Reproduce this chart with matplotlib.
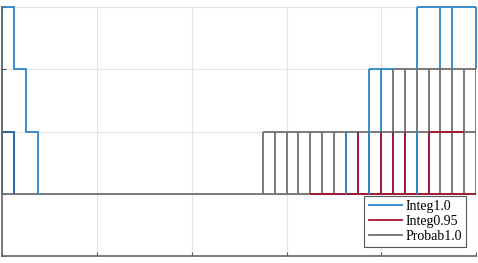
#!/usr/bin/env python3

import matplotlib.pyplot as plt

plt.rcParams['font.family'] = ['Liberation Serif', 'DejaVu Serif']

# time slots (one slot = 0.125)
slot_edges = [2.75, 2.875, 3.0, 3.125, 3.25, 3.375, 3.5, 3.625, 3.75, 3.875,
              4.0, 4.125, 4.25, 4.375, 4.5, 4.625, 4.75, 4.875, 5.0]

# Probab1.0
probab_idle = [0.0, 2.75]
probab_row1_edges = slot_edges
probab_row2_edges = [4.125, 4.25, 4.375, 4.5, 4.625, 4.75, 4.875, 5.0]

# Integ0.95
integ095_idle = [3.25, 5.0]
integ095_pulses = [3.75, 4.0, 4.125, 4.25, 4.5]
integ095_busy = [4.5, 4.875]

# Integ1.0
integ1_start_edges = [0.0, 0.125, 0.25, 0.375]
integ1_start_values = [3, 2, 1]
integ1_first_edges = [0.0, 0.125]
integ1_first_values = [1]
integ1_pulses = [3.625, 3.875, 4.375]
integ1_row2_edges = [3.875, 4.0, 4.125]
integ1_row3_edges = [4.375, 4.625, 4.75, 5.0]

c_blue = '#2b86c8'
c_dark = '#1f5f99'
c_red = '#a2142f'
c_gray = '#707070'
lw = 1.3

fig = plt.figure(figsize=(4.78, 2.63), dpi=100)
ax = fig.add_axes([0.0048, 0.0266, 0.9910, 0.9468])

# gray boxes (bottom layer)
ax.hlines(0, probab_idle[0], probab_idle[1], color=c_gray, lw=lw, zorder=2)
ax.vlines(probab_row1_edges, 0, 1, color=c_gray, lw=lw, zorder=2)
ax.hlines([0, 1], probab_row1_edges[0], probab_row1_edges[-1], color=c_gray, lw=lw, zorder=2)
ax.vlines(probab_row2_edges, 1, 2, color=c_gray, lw=lw, zorder=2)
ax.hlines(2, probab_row2_edges[0], probab_row2_edges[-1], color=c_gray, lw=lw, zorder=2)

# red
ax.hlines(0, integ095_idle[0], integ095_idle[1], color=c_red, lw=lw, zorder=3)
ax.vlines(integ095_pulses, 0, 1, color=c_red, lw=lw, zorder=3)
ax.hlines(1, integ095_busy[0], integ095_busy[1], color=c_red, lw=lw, zorder=3)

# blue (top layer)
ax.stairs(integ1_start_values, integ1_start_edges, baseline=0, color=c_blue, lw=lw, zorder=4, clip_on=False)
ax.stairs(integ1_first_values, integ1_first_edges, baseline=0, color=c_dark, lw=lw, zorder=4)
ax.vlines(integ1_pulses, 0, 1, color=c_blue, lw=lw, zorder=4)
ax.vlines(integ1_row2_edges[:-1], 1, 2, color=c_blue, lw=lw, zorder=4)
ax.hlines(2, integ1_row2_edges[0], integ1_row2_edges[-1], color=c_blue, lw=lw, zorder=4)
ax.vlines(integ1_row3_edges, 2, 3, color=c_blue, lw=lw, zorder=4, clip_on=False)
ax.hlines(3, integ1_row3_edges[0], integ1_row3_edges[-1], color=c_blue, lw=lw, zorder=4, clip_on=False)

ax.set_xlim(0, 5)
ax.set_ylim(-1, 3)
ax.set_xticks([0, 1, 2, 3, 4, 5])
ax.set_yticks([-1, 0, 1, 2, 3])
ax.set_xticklabels([])
ax.set_yticklabels([])
ax.tick_params(direction='in', length=3, color='#555555')
ax.grid(True, color='#e3e3e3', lw=0.8, zorder=0)
ax.set_axisbelow(True)
ax.spines['right'].set_visible(False)
ax.spines['top'].set_visible(False)
for s in ['left', 'bottom']:
    ax.spines[s].set_color('#666666')
    ax.spines[s].set_linewidth(1.2)
    ax.spines[s].set_zorder(6)

handles = [plt.Line2D([], [], color=c_blue, lw=lw),
           plt.Line2D([], [], color=c_red, lw=lw),
           plt.Line2D([], [], color=c_gray, lw=lw)]
leg = ax.legend(handles, ['Integ1.0', 'Integ0.95', 'Probab1.0'],
                loc='lower right', bbox_to_anchor=(0.979, 0.036), borderaxespad=0,
                fontsize=10, fancybox=False, framealpha=1, edgecolor='#555555',
                handlelength=2.4, handletextpad=0.25, labelspacing=0.15, borderpad=0.3)
leg.get_frame().set_linewidth(0.8)
leg.set_zorder(10)

fig.savefig('out.png', dpi=100)
